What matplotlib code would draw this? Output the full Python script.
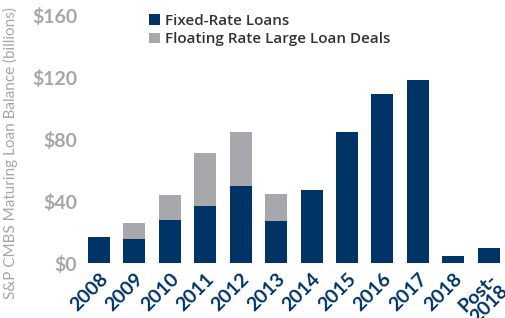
import matplotlib.pyplot as plt
import numpy as np

# values, in $ billions
years = ["2008", "2009", "2010", "2011", "2012", "2013", "2014",
         "2015", "2016", "2017", "2018", "Post-\n2018"]
fixed_rate = [17, 16, 28, 37, 50, 27, 47, 85, 109, 118, 5, 10]
floating = [0, 10, 16, 34, 35, 18, 0, 0, 0, 0, 0, 0]
y_ticks = [0, 40, 80, 120, 160]

NAVY = "#003466"
GRAY = "#a7a8ab"
TICK_GRAY = "#a6a6a8"

plt.rcParams["font.family"] = ["Lato", "DejaVu Sans"]

fig = plt.figure(figsize=(5.06, 3.18), dpi=100)
ax = fig.add_axes([0.1607, 0.172, 0.840, 0.780])

x = np.arange(len(years))
ax.bar(x, fixed_rate, width=0.62, color=NAVY, label="Fixed-Rate Loans")
ax.bar(x, floating, width=0.62, bottom=fixed_rate, color=GRAY,
       label="Floating Rate Large Loan Deals")

ax.set_xlim(-0.5, len(years) - 0.5)
ax.set_ylim(0, 160)
ax.set_yticks(y_ticks)
ax.set_yticklabels(["$%d" % v for v in y_ticks], color=TICK_GRAY,
                   fontsize=14, fontweight="bold")
ax.set_xticks(x)
ax.set_xticklabels(years, rotation=45, ha="right", va="top",
                   rotation_mode="anchor", color=NAVY, fontsize=14,
                   fontweight="bold", linespacing=0.95,
                   multialignment="left")
ax.tick_params(axis="y", length=0, pad=3)
ax.tick_params(axis="x", length=0, pad=5)
for s in ax.spines.values():
    s.set_visible(False)

fig.text(0.021, 0.52, "S&P CMBS Maturing Loan Balance (billions)",
         rotation=90, ha="center", va="center", color=TICK_GRAY, fontsize=11)

ax.legend(loc="upper left", bbox_to_anchor=(0.268, 1.0),
          bbox_transform=fig.transFigure, frameon=False,
          handlelength=0.7, handleheight=0.7, handletextpad=0.35,
          labelspacing=0.3, labelcolor="#333333",
          prop={"family": "Open Sans", "weight": "semibold", "size": 11})

fig.savefig("out.png", dpi=100)
